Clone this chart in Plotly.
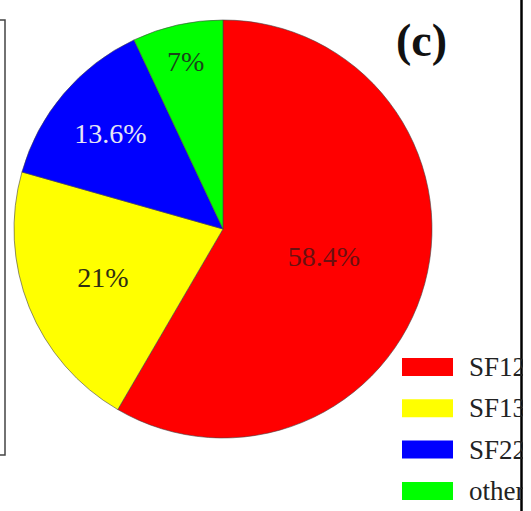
import plotly.graph_objects as go

labels = ["SF12", "SF13", "SF22", "other"]
values = [58.4, 21, 13.6, 7]
colors = ["#ff0000", "#ffff00", "#0000ff", "#00ff00"]
text_colors = ["#6b1010", "#2e2e12", "#e6e6f5", "#1a451a"]

W, H = 523, 511
cx, cy, R = 223, 229, 209

fig = go.Figure()
fig.add_trace(go.Pie(
    labels=labels, values=values, sort=False, direction="clockwise", rotation=0,
    marker=dict(colors=colors, line=dict(color="#444444", width=0.6)),
    texttemplate="%{value}%", textposition="inside", insidetextorientation="horizontal",
    textfont=dict(family="Liberation Serif", size=28, color=text_colors),
    showlegend=False, hoverinfo="label+percent",
    domain=dict(x=[(cx - R) / W, (cx + R) / W], y=[1 - (cy + R) / H, 1 - (cy - R) / H]),
))

shapes = []
annotations = []
# manual legend built from the arrays
row0, step = 367, 41.3
for i, (lab, col) in enumerate(zip(labels, colors)):
    yc = row0 + i * step
    shapes.append(dict(type="rect", xref="paper", yref="paper",
                       x0=402 / W, x1=453 / W, y0=1 - (yc + 9) / H, y1=1 - (yc - 9) / H,
                       fillcolor=col, line=dict(width=0)))
    annotations.append(dict(text=lab, xref="paper", yref="paper", x=467 / W, y=1 - yc / H,
                            xanchor="left", yanchor="middle", showarrow=False,
                            font=dict(family="Liberation Serif", size=27, color="#222222")))

# panel title
annotations.append(dict(text="<b>(c)</b>", xref="paper", yref="paper", x=421 / W, y=1 - 40 / H,
                        xanchor="center", yanchor="middle", showarrow=False,
                        font=dict(family="Liberation Serif", size=46, color="#111111")))

# neighbouring panel frame edges
shapes.append(dict(type="path", xref="paper", yref="paper",
                   path=f"M 0,{1 - 20 / H} L {5 / W},{1 - 20 / H} L {5 / W},{1 - 455 / H} L 0,{1 - 455 / H}",
                   line=dict(color="#444444", width=1.5)))
shapes.append(dict(type="line", xref="paper", yref="paper", x0=521.5 / W, x1=521.5 / W, y0=0, y1=1,
                   line=dict(color="#000000", width=2.5)))

fig.update_layout(width=W, height=H, margin=dict(l=0, r=0, t=0, b=0),
                  paper_bgcolor="white", plot_bgcolor="white",
                  shapes=shapes, annotations=annotations)

fig.write_html("out.html", config={"displayModeBar": False},
               post_script="document.body.style.margin='0';")
